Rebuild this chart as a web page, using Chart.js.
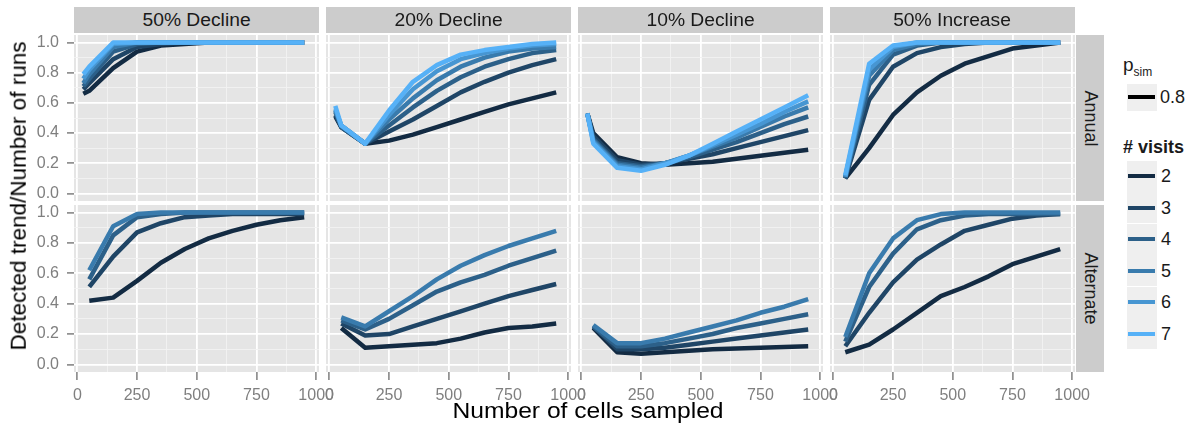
<!DOCTYPE html>
<html>
<head>
<meta charset="utf-8">
<script src="https://cdn.jsdelivr.net/npm/chart.js@4.4.1/dist/chart.umd.min.js"></script>
<style>
  body { margin: 0; background: #fff; width: 1194px; height: 429px; overflow: hidden; position: relative;
         font-family: 'Liberation Sans', Arial, Helvetica, sans-serif; }
  .abs { position: absolute; }
  .strip { position: absolute; background: #CCCCCC; color: #1A1A1A; display: flex;
           align-items: center; justify-content: center; font-size: 18px; white-space: nowrap; }
  .strip span { display: inline-block; }
  .key { position: absolute; background: #EFEFEF; }
  .keyline { position: absolute; height: 4px; }
  .lab { position: absolute; font-size: 18px; color: #1A1A1A; line-height: 1; }
</style>
</head>
<body>
<script>
// x values (number of cells sampled)
const xAnnual = [25, 50, 150, 250, 350, 450, 550, 650, 750, 850, 950];
const xAlternate = [50, 150, 250, 350, 450, 550, 650, 750, 850, 950];
const visitsAnnual = [2, 3, 4, 5, 6, 7];
const visitsAlternate = [2, 3, 4, 5];

const colTitles = ['50% Decline', '20% Decline', '10% Decline', '50% Increase'];
const rowTitles = ['Annual', 'Alternate'];
const xTicks = [0, 125, 250, 375, 500, 625, 750, 875, 1000];
const yTicks = [0, 0.1, 0.2, 0.3, 0.4, 0.5, 0.6, 0.7, 0.8, 0.9, 1.0];

// one row per number of visits
const decline50Annual = [
  [0.66, 0.68, 0.83, 0.94, 0.98, 0.99, 1.00, 1.00, 1.00, 1.00, 1.00],
  [0.69, 0.73, 0.89, 0.97, 0.99, 1.00, 1.00, 1.00, 1.00, 1.00, 1.00],
  [0.71, 0.76, 0.94, 0.99, 1.00, 1.00, 1.00, 1.00, 1.00, 1.00, 1.00],
  [0.73, 0.79, 0.97, 1.00, 1.00, 1.00, 1.00, 1.00, 1.00, 1.00, 1.00],
  [0.76, 0.82, 0.99, 1.00, 1.00, 1.00, 1.00, 1.00, 1.00, 1.00, 1.00],
  [0.79, 0.84, 1.00, 1.00, 1.00, 1.00, 1.00, 1.00, 1.00, 1.00, 1.00]
];
const decline20Annual = [
  [0.51, 0.44, 0.33, 0.35, 0.39, 0.44, 0.49, 0.54, 0.59, 0.63, 0.67],
  [0.52, 0.44, 0.33, 0.41, 0.49, 0.58, 0.67, 0.74, 0.80, 0.85, 0.89],
  [0.54, 0.44, 0.33, 0.45, 0.57, 0.68, 0.77, 0.84, 0.89, 0.93, 0.95],
  [0.55, 0.45, 0.33, 0.49, 0.63, 0.75, 0.84, 0.90, 0.94, 0.96, 0.97],
  [0.56, 0.45, 0.33, 0.52, 0.69, 0.81, 0.89, 0.93, 0.96, 0.98, 0.99],
  [0.58, 0.45, 0.33, 0.55, 0.74, 0.85, 0.92, 0.95, 0.97, 0.99, 1.00]
];
const decline10Annual = [
  [0.53, 0.40, 0.24, 0.20, 0.19, 0.20, 0.21, 0.23, 0.25, 0.27, 0.29],
  [0.53, 0.38, 0.22, 0.19, 0.20, 0.23, 0.26, 0.30, 0.34, 0.38, 0.42],
  [0.53, 0.36, 0.20, 0.18, 0.20, 0.24, 0.29, 0.34, 0.40, 0.46, 0.51],
  [0.53, 0.35, 0.19, 0.17, 0.20, 0.25, 0.31, 0.37, 0.44, 0.51, 0.57],
  [0.53, 0.34, 0.18, 0.16, 0.20, 0.25, 0.32, 0.39, 0.46, 0.54, 0.61],
  [0.53, 0.33, 0.17, 0.15, 0.19, 0.25, 0.33, 0.41, 0.49, 0.57, 0.65]
];
const increase50Annual = [
  [null, 0.10, 0.30, 0.52, 0.67, 0.78, 0.86, 0.91, 0.96, 0.98, 1.00],
  [null, 0.10, 0.62, 0.84, 0.93, 0.97, 0.99, 1.00, 1.00, 1.00, 1.00],
  [null, 0.10, 0.72, 0.92, 0.98, 1.00, 1.00, 1.00, 1.00, 1.00, 1.00],
  [null, 0.11, 0.78, 0.95, 0.99, 1.00, 1.00, 1.00, 1.00, 1.00, 1.00],
  [null, 0.11, 0.82, 0.97, 1.00, 1.00, 1.00, 1.00, 1.00, 1.00, 1.00],
  [null, 0.12, 0.86, 0.98, 1.00, 1.00, 1.00, 1.00, 1.00, 1.00, 1.00]
];
const decline50Alternate = [
  [0.42, 0.44, 0.55, 0.67, 0.76, 0.83, 0.88, 0.92, 0.95, 0.97],
  [0.51, 0.71, 0.87, 0.93, 0.97, 0.98, 0.99, 0.99, 0.99, 0.99],
  [0.56, 0.85, 0.97, 0.99, 1.00, 1.00, 1.00, 1.00, 1.00, 1.00],
  [0.62, 0.91, 0.99, 1.00, 1.00, 1.00, 1.00, 1.00, 1.00, 1.00]
];
const decline20Alternate = [
  [0.24, 0.11, 0.12, 0.13, 0.14, 0.17, 0.21, 0.24, 0.25, 0.27],
  [0.27, 0.19, 0.20, 0.25, 0.30, 0.35, 0.40, 0.45, 0.49, 0.53],
  [0.29, 0.23, 0.30, 0.39, 0.48, 0.54, 0.59, 0.65, 0.70, 0.75],
  [0.31, 0.25, 0.35, 0.45, 0.56, 0.65, 0.72, 0.78, 0.83, 0.88]
];
const decline10Alternate = [
  [0.24, 0.08, 0.07, 0.08, 0.09, 0.10, 0.105, 0.11, 0.115, 0.12],
  [0.25, 0.10, 0.10, 0.11, 0.13, 0.15, 0.17, 0.19, 0.21, 0.23],
  [0.25, 0.12, 0.12, 0.14, 0.17, 0.20, 0.24, 0.27, 0.30, 0.33],
  [0.26, 0.14, 0.14, 0.17, 0.21, 0.25, 0.29, 0.34, 0.38, 0.43]
];
const increase50Alternate = [
  [0.08, 0.13, 0.23, 0.34, 0.45, 0.51, 0.58, 0.66, 0.71, 0.76],
  [0.12, 0.34, 0.54, 0.69, 0.79, 0.88, 0.92, 0.96, 0.98, 0.99],
  [0.15, 0.51, 0.73, 0.89, 0.95, 0.98, 0.99, 0.99, 0.99, 0.99],
  [0.18, 0.60, 0.83, 0.95, 0.99, 1.00, 1.00, 1.00, 1.00, 1.00]
];

const visitColors = { 2: '#132B43', 3: '#1F4566', 4: '#2C6089', 5: '#397BAD', 6: '#4796D2', 7: '#56B1F7' };

// layout of the facet grid
const colLeft = [74, 326, 578, 830];
const PANEL_W = 245;
const rowTop = [35, 205];
const rowH = [166, 167];
const PL = 45, PR = 30, PT = 25, PB = 40;
const FONT = "'Liberation Sans', Arial, Helvetica, sans-serif";

const panels = [
  { row: 0, col: 0, xs: xAnnual, visits: visitsAnnual, rows: decline50Annual },
  { row: 0, col: 1, xs: xAnnual, visits: visitsAnnual, rows: decline20Annual },
  { row: 0, col: 2, xs: xAnnual, visits: visitsAnnual, rows: decline10Annual },
  { row: 0, col: 3, xs: xAnnual, visits: visitsAnnual, rows: increase50Annual },
  { row: 1, col: 0, xs: xAlternate, visits: visitsAlternate, rows: decline50Alternate },
  { row: 1, col: 1, xs: xAlternate, visits: visitsAlternate, rows: decline20Alternate },
  { row: 1, col: 2, xs: xAlternate, visits: visitsAlternate, rows: decline10Alternate },
  { row: 1, col: 3, xs: xAlternate, visits: visitsAlternate, rows: increase50Alternate }
];

const panelBg = {
  id: 'panelBg',
  beforeDraw(chart) {
    const { ctx, chartArea: a } = chart;
    ctx.save();
    ctx.fillStyle = '#E5E5E5';
    ctx.fillRect(a.left, a.top, a.right - a.left, a.bottom - a.top);
    ctx.restore();
  }
};

const majorX = v => v % 250 === 0;
const majorY = v => Math.round(v * 10) % 2 === 0;

function gridOpts(isMajor, showTicks, tickLength) {
  return {
    color: c => (c.tick && isMajor(c.tick.value)) ? '#FFFFFF' : '#F2F2F2',
    lineWidth: c => (c.tick && isMajor(c.tick.value)) ? 1.8 : 0.9,
    drawTicks: showTicks,
    tickLength: tickLength,
    tickColor: c => (c.tick && isMajor(c.tick.value)) ? '#7F7F7F' : 'rgba(0,0,0,0)',
    tickWidth: 1.5
  };
}

function makePanel(p) {
  const h = rowH[p.row];
  const cv = document.createElement('canvas');
  cv.width = PANEL_W + PL + PR;
  cv.height = h + PT + PB;
  cv.className = 'abs';
  cv.style.left = (colLeft[p.col] - PL) + 'px';
  cv.style.top = (rowTop[p.row] - PT) + 'px';
  document.body.appendChild(cv);
  const showY = p.col === 0;
  const showX = p.row === 1;

  const datasets = p.visits.map((v, i) => ({
    label: String(v),
    data: p.xs.map((x, j) => ({ x: x, y: p.rows[i][j] })),
    borderColor: visitColors[v],
    backgroundColor: visitColors[v],
    borderWidth: 4.5,
    pointRadius: 0,
    tension: 0,
    borderCapStyle: 'butt',
    borderJoinStyle: 'round',
    fill: false,
    order: 10 - v
  }));

  new Chart(cv, {
    type: 'line',
    data: { datasets: datasets },
    plugins: [panelBg],
    options: {
      responsive: false,
      animation: false,
      // the axes take the left and bottom margins, so the plot area lands on the panel
      layout: { padding: { left: 0, right: PR, top: PT, bottom: 0 } },
      plugins: { legend: { display: false }, tooltip: { enabled: false } },
      scales: {
        x: {
          type: 'linear',
          min: -14,
          max: 1012,
          afterFit: s => { s.height = PB; },
          afterBuildTicks: s => { s.ticks = xTicks.map(v => ({ value: v })); },
          grid: gridOpts(majorX, showX, 8),
          border: { display: false },
          ticks: {
            display: showX,
            autoSkip: false,
            maxRotation: 0,
            padding: 6,
            color: '#7F7F7F',
            font: { family: FONT, size: 16 },
            callback: v => majorX(v) ? String(v) : ''
          }
        },
        y: {
          type: 'linear',
          min: -0.05,
          max: 1.05,
          afterFit: s => { s.width = PL; },
          afterBuildTicks: s => { s.ticks = yTicks.map(v => ({ value: v })); },
          grid: gridOpts(majorY, showY, 7),
          border: { display: false },
          ticks: {
            display: showY,
            autoSkip: false,
            padding: 8,
            color: '#7F7F7F',
            font: { family: FONT, size: 16 },
            callback: v => majorY(v) ? v.toFixed(1) : ''
          }
        }
      }
    }
  });
}

panels.forEach(makePanel);

function addDiv(cls, style, html) {
  const d = document.createElement('div');
  d.className = cls;
  Object.assign(d.style, style);
  if (html !== undefined) d.innerHTML = html;
  document.body.appendChild(d);
  return d;
}

// facet strips
colTitles.forEach((t, c) => {
  addDiv('strip', { left: colLeft[c] + 'px', top: '7px', width: PANEL_W + 'px', height: '26px' },
    '<span style="transform:scaleX(1.07)">' + t + '</span>');
});
rowTitles.forEach((t, r) => {
  addDiv('strip', { left: (colLeft[3] + PANEL_W + 1) + 'px', top: rowTop[r] + 'px', width: '28px', height: rowH[r] + 'px' },
    '<span style="transform:rotate(90deg)">' + t + '</span>');
});

// axis titles
addDiv('abs', { left: '588px', top: '400px', fontSize: '22px', color: '#000', whiteSpace: 'nowrap',
  transform: 'translateX(-50%) scaleX(1.12)', lineHeight: '1' }, 'Number of cells sampled');
addDiv('abs', { left: '19px', top: '196px', fontSize: '22.5px', color: '#000', whiteSpace: 'nowrap',
  transform: 'translate(-50%, -50%) rotate(-90deg)', lineHeight: '1' }, 'Detected trend/Number of runs');

// legend
addDiv('lab', { left: '1123px', top: '55px', fontSize: '19px' }, 'p<sub style="font-size:12px">sim</sub>');
addDiv('key', { left: '1127px', top: '84px', width: '30px', height: '27px' });
addDiv('keyline', { left: '1128px', top: '95px', width: '27px', background: '#000' });
addDiv('lab', { left: '1160px', top: '88px' }, '0.8');
addDiv('lab', { left: '1123px', top: '138px', fontWeight: 'bold' }, '# visits');
visitsAnnual.forEach((v, i) => {
  const cy = 176 + i * 31.5;
  addDiv('key', { left: '1127px', top: (cy - 15.5) + 'px', width: '30px', height: '31px' });
  addDiv('keyline', { left: '1128px', top: (cy - 2) + 'px', width: '27px', background: visitColors[v] });
  addDiv('lab', { left: '1161px', top: (cy - 9) + 'px' }, String(v));
});
</script>
</body>
</html>
